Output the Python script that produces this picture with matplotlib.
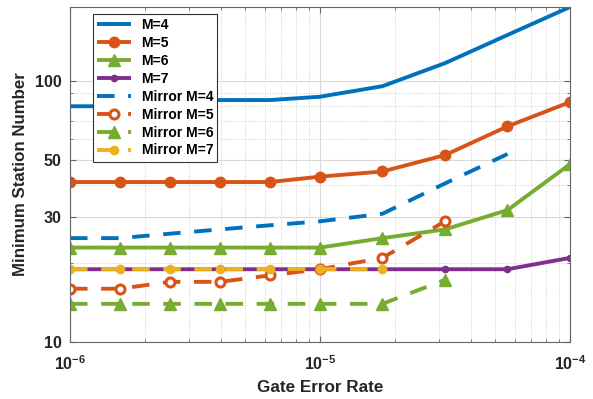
import matplotlib
matplotlib.use("Agg")
import matplotlib.pyplot as plt
from matplotlib.ticker import FixedLocator, FuncFormatter, LogLocator, NullFormatter
import numpy as np

plt.rcParams['font.family'] = ['Liberation Sans', 'DejaVu Sans']
plt.rcParams['font.weight'] = 'bold'
plt.rcParams['mathtext.fontset'] = 'custom'
plt.rcParams['mathtext.rm'] = 'Liberation Sans:bold'
plt.rcParams['mathtext.bf'] = 'Liberation Sans:bold'
plt.rcParams['mathtext.it'] = 'Liberation Sans:bold:italic'
plt.rcParams['lines.solid_capstyle'] = 'butt'
plt.rcParams['lines.dash_capstyle'] = 'butt'

# Data
error_rate = [1e-6, 1.585e-6, 2.512e-6, 3.981e-6, 6.31e-6, 1e-5, 1.778e-5, 3.162e-5, 5.623e-5, 1e-4]
m4 = [80, 80, 84, 84.5, 84.5, 87, 95.5, 117, 150, 192]
m5 = [41, 41, 41, 41, 41, 43, 45, 52, 67, 83]
m6 = [23, 23, 23, 23, 23, 23, 25, 27, 32, 48]
m7 = [19, 19, 19, 19, 19, 19, 19, 19, 19, 21]
mirror_m4 = [25, 25, 26, 27, 28, 29, 31, 40.5, 52.5]
mirror_m5 = [16, 16, 17, 17, 18, 19, 21, 29]
mirror_m6 = [14, 14, 14, 14, 14, 14, 14, 17.3]
mirror_m7 = [19, 19, 19, 19, 19, 19, 19]

c_blue = '#0072BD'
c_orange = '#D95319'
c_green = '#77AC30'
c_purple = '#7E2F8E'
c_yellow = '#EDB120'

fig = plt.figure(figsize=(5.93, 3.99), dpi=100)
ax = fig.add_axes([70/593, 1-342/399, 500/593, 335/399])
ax.set_xscale('log')
ax.set_yscale('log')

lw = 2.8
dash = (4.5, 3.5)
ax.plot(error_rate, m4, color=c_blue, lw=lw, label='M=4')
ax.plot(error_rate, m5, color=c_orange, lw=lw, marker='o', ms=7.5, label='M=5')
ax.plot(error_rate, m6, color=c_green, lw=lw, marker='^', ms=9, label='M=6')
ax.plot(error_rate, m7, color=c_purple, lw=lw, marker='o', ms=4.5, label='M=7')
ax.plot(error_rate[:len(mirror_m4)], mirror_m4, color=c_blue, lw=lw, ls=(0, dash), label='Mirror M=4')
ax.plot(error_rate[:len(mirror_m5)], mirror_m5, color=c_orange, lw=lw, ls=(0, dash), marker='o', ms=6.5,
        mfc='white', mew=2.2, label='Mirror M=5')
ax.plot(error_rate[:len(mirror_m6)], mirror_m6, color=c_green, lw=lw, ls=(0, dash), marker='^', ms=9,
        label='Mirror M=6')
ax.plot(error_rate[:len(mirror_m7)], mirror_m7, color=c_yellow, lw=lw, ls=(0, dash), marker='o', ms=6,
        label='Mirror M=7')

ax.set_xlim(1e-6, 1e-4)
ax.set_ylim(10, 192)

ax.yaxis.set_major_locator(FixedLocator([10, 30, 50, 100]))
ax.yaxis.set_major_formatter(FuncFormatter(lambda v, p: f'{int(round(v))}'))
ax.yaxis.set_minor_locator(FixedLocator([20, 40, 60, 70, 80, 90]))
ax.yaxis.set_minor_formatter(NullFormatter())

ax.xaxis.set_major_locator(FixedLocator([1e-6, 1e-5, 1e-4]))
ax.xaxis.set_major_formatter(FuncFormatter(lambda v, p: r'$10^{%d}$' % int(round(np.log10(v)))))
ax.xaxis.set_minor_locator(LogLocator(base=10, subs=np.arange(2, 10), numticks=20))
ax.xaxis.set_minor_formatter(NullFormatter())

ax.grid(True, which='major', color='#d9d9d9', lw=0.8, ls='-')
ax.grid(True, which='minor', color='#d0d0d0', lw=0.7, ls=(0, (1, 1.5)))
ax.set_axisbelow(True)

for s in ax.spines.values():
    s.set_color('#666666')
    s.set_linewidth(0.8)
ax.tick_params(which='both', direction='in', top=True, right=True, colors='#666666',
               labelcolor='#262626', labelsize=11.5)
ax.tick_params(which='major', length=4)
ax.tick_params(which='minor', length=2)
ax.tick_params(axis='x', pad=9)
ax.tick_params(axis='y', pad=6)

ax.set_xlabel('Gate Error Rate', fontsize=12.3, fontweight='bold', color='#262626', labelpad=5)
ax.set_ylabel('Minimum Station Number', fontsize=12.2, fontweight='bold', color='#262626', labelpad=5)

leg = ax.legend(loc='upper left', bbox_to_anchor=(0.046, 0.979), fontsize=10, handlelength=2.4,
                labelspacing=0.28, borderpad=0.3, handletextpad=0.8, fancybox=False,
                framealpha=1, edgecolor='#333333', borderaxespad=0)
leg.get_frame().set_linewidth(0.8)

fig.savefig('out.png', dpi=100)
